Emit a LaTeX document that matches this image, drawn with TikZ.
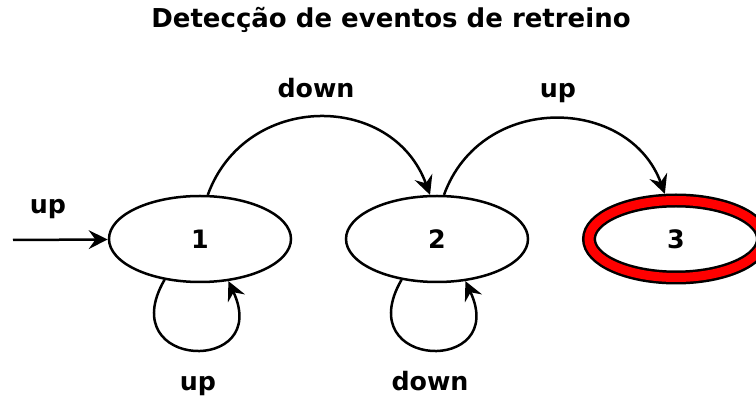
\documentclass[tikz,border=0pt]{standalone}
\usepackage{fontspec}
\setmainfont{DejaVu Sans}
\usetikzlibrary{arrows.meta,shapes.geometric}
\newlength{\du}
\setlength{\du}{0.75pt}
\definecolor{dialinecolor}{rgb}{0.000000, 0.000000, 0.000000}
\definecolor{finalcolor}{rgb}{1.000000, 0.000000, 0.000000}
\tikzset{
  state/.style={draw=dialinecolor, ellipse, line width=2.5\du, inner sep=0pt,
    minimum width=182\du, minimum height=86\du,
    font=\fontsize{19}{23}\selectfont\bfseries},
  final/.style={state, double=finalcolor, double distance=9\du,
    minimum width=174\du, minimum height=77\du},
  trans/.style={draw=dialinecolor, line width=2.5\du,
    -{Stealth[length=14.25pt,width=14pt,inset=5pt]}},
  lbl/.style={anchor=base, inner sep=0pt, font=\fontsize{19}{23}\selectfont\bfseries},
}

\begin{document}
\begin{tikzpicture}
\useasboundingbox (0\du,0\du) rectangle (756\du,-398\du);
% title
\node[lbl, font=\fontsize{19.5}{23}\selectfont\bfseries] (title) at (391\du,-28\du) {Detecção de eventos de retreino};
% states
\node[state] (s1) at (200\du,-239\du) {1};
\node[state] (s2) at (437\du,-239\du) {2};
\node[final] (s3) at (676\du,-239\du) {3};
% initial arrow
\coordinate (init) at (13\du,-240\du);
\draw[trans] (init) -- (s1);
\node[lbl] (l-init) at (48\du,-214\du) {up};
% transitions between states
\draw[trans] (s1.80) .. controls +(70:110\du) and +(110:110\du) .. (s2.99);
\node[lbl] (l-12) at (316\du,-98\du) {down};
\draw[trans, shorten >=6\du] (s2.81) .. controls +(70:110\du) and +(110:110\du) .. (s3.103);
\node[lbl] (l-23) at (558\du,-98\du) {up};
% self loops
\draw[trans] (s1.229) .. controls +(240:104\du) and +(295:104\du) .. (s1.304);
\node[lbl] (l-11) at (198\du,-391\du) {up};
\draw[trans] (s2.229) .. controls +(240:104\du) and +(295:104\du) .. (s2.304);
\node[lbl] (l-22) at (430\du,-391\du) {down};
\end{tikzpicture}
\end{document}
